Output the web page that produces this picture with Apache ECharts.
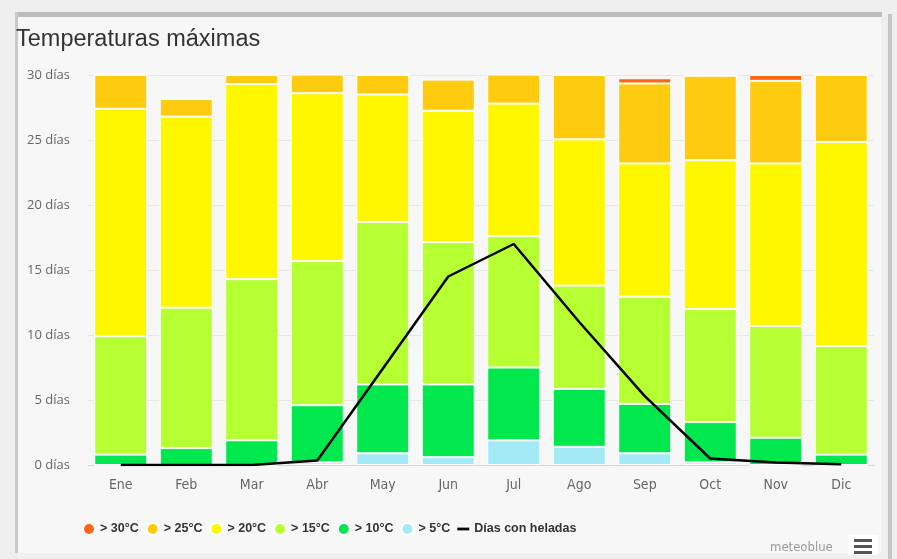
<!DOCTYPE html>
<html>
	<head>
		<meta charset="utf-8">
		<title>Temperaturas máximas</title>
		<script src="https://cdn.jsdelivr.net/npm/echarts@6/dist/echarts.min.js"></script>
		<style>
			html, body { margin: 0; padding: 0; background: #efefef; }
		</style>
	</head>
	<body>
		<div id="main" style="width: 897px;height: 559px;"></div>

		<script>
			var myChart = echarts.init(document.getElementById('main'));

			var meses = ['Ene','Feb','Mar','Abr','May','Jun','Jul','Ago','Sep','Oct','Nov','Dic'];
			var yTicks = [0, 5, 10, 15, 20, 25, 30];

			// dias por tramo (segmentos apilados, de abajo a arriba)
			var mas5  = [0, 0, 0, 0.2, 0.9, 0.6, 1.9, 1.4, 0.9, 0.2, 0, 0];
			var mas10 = [0.8, 1.3, 1.9, 4.4, 5.3, 5.6, 5.6, 4.45, 3.8, 3.1, 2.1, 0.8];
			var mas15 = [9.1, 10.8, 12.4, 11.1, 12.5, 10.95, 10.1, 7.95, 8.25, 8.7, 8.6, 8.35];
			var mas20 = [17.5, 14.7, 15.0, 12.9, 9.8, 10.1, 10.2, 11.25, 10.25, 11.45, 12.5, 15.7];
			var mas25 = [2.6, 1.35, 0.7, 1.5, 1.5, 2.4, 2.3, 4.95, 6.15, 6.5, 6.35, 5.15];
			var mas30 = [0, 0, 0, 0, 0, 0, 0, 0, 0.4, 0, 0.45, 0];
			var heladas = [0, 0, 0, 0.35, 7.4, 14.5, 17.0, 11.0, 5.3, 0.5, 0.2, 0.05];

			var fuenteEstrecha = '"DejaVu Sans Condensed", "Liberation Sans", sans-serif';

			function barra(nombre, datos, color){
				return {
					name: nombre,
					type: 'bar',
					stack: 'dias',
					barCategoryGap: '19%',
					data: datos,
					itemStyle: {color: color, borderColor: '#ffffff', borderWidth: 1},
					emphasis: {disabled: true}
				};
			}

			var option = {
				backgroundColor: '#efefef',
				animation: false,
				title: {
					text: 'Temperaturas máximas',
					left: 11,
					top: 23,
					textStyle: {
						color: '#333333',
						fontSize: 23.5,
						fontWeight: 'normal',
						fontFamily: 'Liberation Sans'
					}
				},
				legend: {
					bottom: 18,
					left: 77,
					itemWidth: 12,
					itemHeight: 13,
					itemGap: 7,
					icon: 'circle',
					textStyle: {
						color: '#333333',
						fontSize: 12.5,
						fontWeight: 'bold',
						fontFamily: 'Liberation Sans'
					},
					data: ['> 30°C', '> 25°C', '> 20°C', '> 15°C', '> 10°C', '> 5°C',
						{name: 'Días con heladas', icon: 'path://M0,0M13,13M0,5L13,5L13,8L0,8Z'}]
				},
				grid: {
					left: 88,
					right: 23,
					top: 75,
					bottom: 94
				},
				xAxis: {
					type: 'category',
					data: meses,
					axisLine: {lineStyle: {color: '#ccd6eb'}},
					axisTick: {alignWithLabel: true, length: 10, lineStyle: {color: '#ccd6eb'}},
					axisLabel: {color: '#666666', fontSize: 14, margin: 13, fontFamily: fuenteEstrecha}
				},
				yAxis: {
					type: 'value',
					min: yTicks[0],
					max: yTicks[yTicks.length - 1],
					interval: 5,
					axisLabel: {color: '#666666', fontSize: 13, margin: 18, fontFamily: 'Open Sans', formatter: '{value} días'},
					splitLine: {lineStyle: {color: '#e6e6e6'}},
					axisLine: {show: false},
					axisTick: {show: false}
				},
				graphic: [
					{type: 'rect', z: -10, shape: {x: 17, y: 17, width: 864, height: 536}, style: {fill: '#f7f7f7'}},
					{type: 'rect', z: -10, shape: {x: 16, y: 12, width: 866, height: 5}, style: {fill: '#bdbdbd'}},
					{type: 'rect', z: -10, shape: {x: 15, y: 12, width: 3, height: 541}, style: {fill: '#c8c8c8'}},
					{type: 'rect', z: -10, shape: {x: 888, y: 14, width: 4, height: 545}, style: {fill: '#c4c4c4'}},
					{type: 'text', left: 770, top: 541, style: {text: 'meteoblue', fill: '#999999', fontSize: 13, fontFamily: fuenteEstrecha}},
					{type: 'rect', shape: {x: 848, y: 535, width: 30, height: 20}, style: {fill: '#ffffff'}},
					{type: 'rect', shape: {x: 854, y: 539, width: 18, height: 3}, style: {fill: '#555555'}},
					{type: 'rect', shape: {x: 854, y: 545, width: 18, height: 3}, style: {fill: '#555555'}},
					{type: 'rect', shape: {x: 854, y: 551, width: 18, height: 3}, style: {fill: '#555555'}}
				],
				series: [
					barra('> 5°C', mas5, '#a3e9f6'),
					barra('> 10°C', mas10, '#00e84e'),
					barra('> 15°C', mas15, '#b5ff33'),
					barra('> 20°C', mas20, '#fff700'),
					barra('> 25°C', mas25, '#fecb0f'),
					barra('> 30°C', mas30, '#fe6510'),
					{
						name: 'Días con heladas',
						type: 'line',
						data: heladas,
						symbol: 'none',
						lineStyle: {color: '#000000', width: 2.5},
						itemStyle: {color: '#000000'},
						z: 5
					}
				]
			};

			myChart.setOption(option);
		</script>
	</body>
</html>
